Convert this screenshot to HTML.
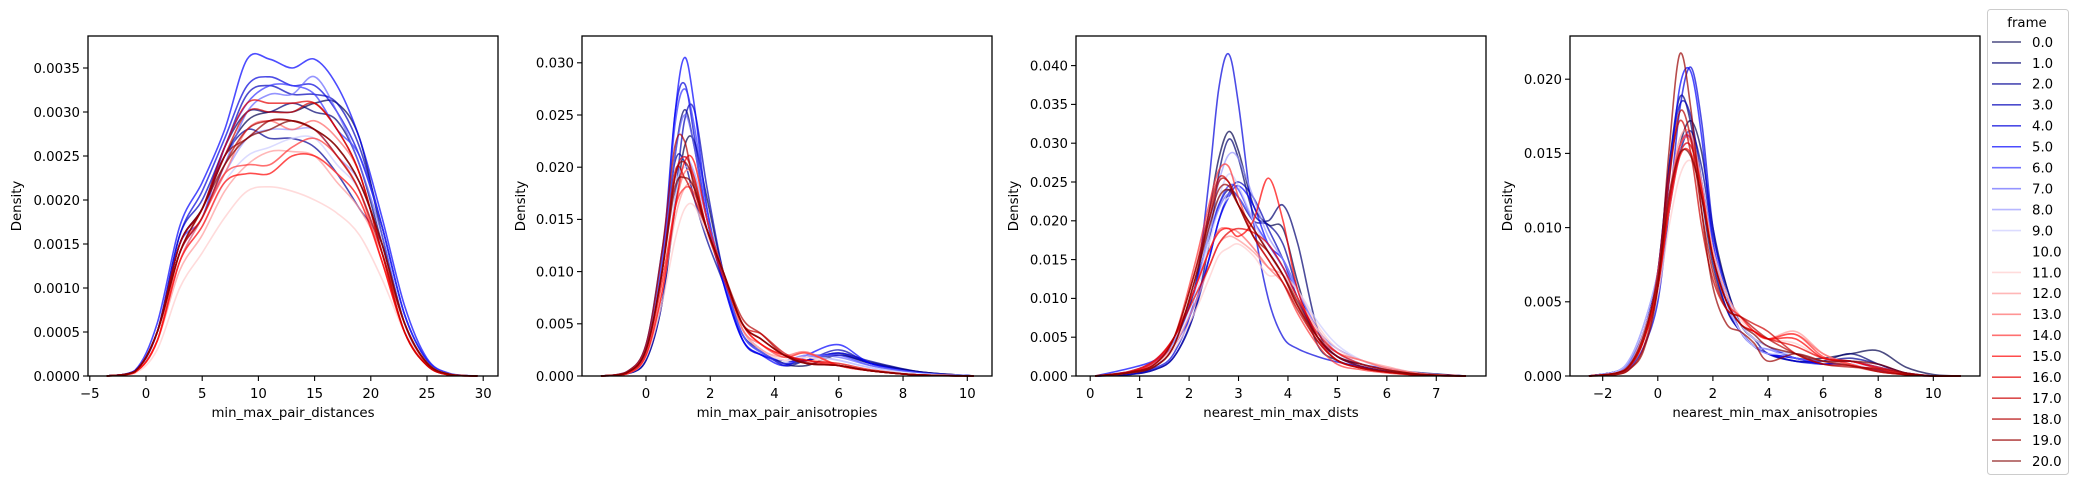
<!DOCTYPE html>
<html><head><meta charset="utf-8"><style>
html,body{margin:0;padding:0;background:#fff;}
svg{display:block;font-family:"DejaVu Sans","Liberation Sans",sans-serif;}
</style></head><body>
<svg id="chart" width="2077" height="484" viewBox="0 0 2077 484" xmlns="http://www.w3.org/2000/svg">
<rect x="0" y="0" width="2077" height="484" fill="#fff"/>
</svg>
<script>
// frames (legend categories)
const frames = [0,1,2,3,4,5,6,7,8,9,10,11,12,13,14,15,16,17,18,19,20];
// panel 1: min_max_pair_distances (density values in units of 1e-4)
const p1X = [-3.5,-1,1,3,5,7,9,11,13,15,17,19,21,23,25,27,29.5];
const p1Y = [
[0,0.5,5,15,19,25,29,30,30,31,31,27,16,6,1.5,0.2,0],
[0,0.5,5,15,19,26,30,30,31,30,29,24,15,6,1.5,0.2,0],
[0,0.5,5,15,19,25,28,27,27,26,23,19,15,6,1.5,0.2,0],
[0,0.5,5,16,20,26,32,33,32,32,31,26,17,7,1.8,0.2,0],
[0,0.6,5,16,21,27,33,34,33,33,30,25,17,7,1.8,0.2,0],
[0,0.6,6,17,22,28,36,36,35,36,33,27,18,8,2,0.3,0],
[0,0.5,5,15,18,26,31,33,33,32,28,25,17,7,1.8,0.2,0],
[0,0.5,5,14,18,24,30,32,32,34,30,24,16,6,1.5,0.2,0],
[0,0.5,4,13,18,23,27,28,28,28,25,22,15,6,1.5,0.2,0],
[0,0.4,4,13,17,22,25,26,27,27,24,21,14,6,1.5,0.2,0],
[0,0.4,4,13,17,22,24,25,25,25,23,20,14,6,1.5,0.2,0],
[0,0.3,3,10,14,18,21,21.5,21,20,18.5,16,11,5,1.2,0.2,0],
[0,0.4,4,12,16,21,24,25.5,25.5,25,22,19,14,6,1.5,0.2,0],
[0,0.4,4,13,18,23,28,29,28,29,27,23,14,6,1.3,0.2,0],
[0,0.4,4,14,18,23,24,24,26,27,25,21,13,5,1.2,0.1,0],
[0,0.4,4,13,17,22,23,23,25,25,23,20,13,5,1.2,0.1,0],
[0,0.5,5,15,19,26,31,31,31,31,28,23,14,5,1.2,0.1,0],
[0,0.5,5,14,19,25,30,30,30,31,28,23,14,5,1.2,0.1,0],
[0,0.5,5,14,18,24,28,29,29,28,25,21,14,6,1.4,0.2,0],
[0,0.5,5,15,19,25,27,29,29,28,26,22,15,6,1.5,0.2,0],
[0,0.5,5,14,19,24,27,28,29,28,26,22,15,6,1.5,0.2,0]];
const p1XTicks = [-5,0,5,10,15,20,25,30];
const p1YTicks = ["0.0000","0.0005","0.0010","0.0015","0.0020","0.0025","0.0030","0.0035"];
// panel 2: min_max_pair_anisotropies (units of 1e-3)
const p2X = [-1.4,-0.6,0,0.5,0.9,1.2,1.5,1.9,2.4,3,3.6,4.3,5,6,7,8.5,10.2];
const p2Y = [
[0,0.2,1.5,7,16,22,22.5,17,10,4.5,2.5,1.2,1,2,1.2,0.4,0],
[0,0.3,2.5,10,21,25.5,22,15,9.5,4,2.3,1.2,1.5,2,1.3,0.4,0],
[0,0.4,3,12,20.5,20.5,17,13,9,4,2.5,1,1.5,2.2,1.4,0.4,0],
[0,0.2,1.5,7,17,24.5,25.5,18,10,3.5,2,1.5,1.5,2.5,1.2,0.3,0],
[0,0.3,2.5,11,25,28,23,15,9,3.5,2,1.5,1.5,2.2,1.2,0.3,0],
[0,0.3,2.2,10,25,30.5,26,16,9,3.5,2,1,2,3,1.2,0.3,0],
[0,0.3,2.5,11,24,27.5,24,16,9.5,4,2.2,1.2,1.8,2,1,0.3,0],
[0,0.3,2.8,11,21,25,22,15,9.5,4,2.3,1.5,2,1.8,1,0.3,0],
[0,0.3,2.5,10,19,21,19.5,15,10,4.5,2.5,1.5,2,1.5,0.8,0.2,0],
[0,0.3,2.5,10,18,20,19,14,10,4.5,2.5,1.5,1.8,1.5,0.8,0.2,0],
[0,0.3,2.5,9,17,19.5,19,14,10,4.5,2.5,1.5,1.8,1.2,0.6,0.2,0],
[0,0.2,1.8,7,13,16,16.3,13.5,10,4.5,2.5,1.5,1.8,1,0.5,0.1,0],
[0,0.2,2,8,15,18,18,14,10,4.5,2.5,1.8,2.2,1,0.5,0.1,0],
[0,0.2,2,9,16,19.5,19,14,10,4.5,3,2,2.3,1,0.5,0.1,0],
[0,0.3,2.5,9,16,18,17.5,14,10,5,3,1.8,2.2,1,0.5,0.1,0],
[0,0.2,2,8,16,20.5,20.5,15,10,5,3,2,1.5,1,0.5,0.1,0],
[0,0.3,2.5,10,19,21,19,14,9.5,5,3.5,2,1.5,1.2,0.6,0.1,0],
[0,0.3,2.5,10,19.5,19,17,14,10,5,4,2.2,1.3,1,0.5,0.1,0],
[0,0.4,3,12,22,22.5,18,14,10,5.5,4,2,1.2,1,0.5,0.1,0],
[0,0.3,2.5,10,19,20.5,18.5,14,10,5,3.5,2,1.2,1,0.5,0.1,0],
[0,0.3,2.5,10,18,19,18,14,10,5,3.5,2,1.2,1,0.5,0.1,0]];
const p2XTicks = [0,2,4,6,8,10];
const p2YTicks = ["0.000","0.005","0.010","0.015","0.020","0.025","0.030"];
// panel 3: nearest_min_max_dists (units of 1e-3)
const p3X = [0.1,0.8,1.3,1.7,2.1,2.4,2.6,2.8,3,3.3,3.6,3.9,4.2,4.6,5,5.5,6,6.7,7.6];
const p3Y = [
[0,0.3,1.2,4,11,21,28,31.5,29,22,19.5,19,12,4,2,1,0.5,0.3,0],
[0,0.2,0.8,2.5,8,17,26,30.5,28,21,20,22,17,6,2.5,1.5,0.8,0.4,0],
[0,0.3,1.2,4,11,18,22,24,23,20,19.5,17,11,5,2.5,1.5,0.8,0.3,0],
[0,0.2,0.8,2.5,8,15,20,23.5,25,23,19,15,10,5,2.5,1.2,0.6,0.2,0],
[0,0.3,1,3,10,25,37,41.5,35,20,10,5,3.5,2.5,1.8,1.2,0.6,0.2,0],
[0,1,2,4,9,15,20,23,24.5,22,17,15,11,6,3,1.5,1,0.3,0],
[0,0.6,2,5,11,18,22,24.5,24,20,17,14,10,5,3,1.5,0.8,0.2,0],
[0,0.5,1.8,4.5,10,17,21.5,23.5,23,20,17,14,11,6,3.5,2,1,0.3,0],
[0,0.5,1.5,4,10,19,25,28.5,28,23,18,15,11,6,3,1.5,0.8,0.2,0],
[0,0.5,1.5,4,10,18,23,26,24.5,20,16,13,11,7,4,2,1,0.3,0],
[0,0.5,1.5,4,10,17,21,23,22,19,16,13,10,6,3,1.5,0.8,0.2,0],
[0,0.4,1.2,3.5,8,12.5,15.5,16.5,17,15.5,13,13,11,6.5,3.5,2,1,0.3,0],
[0,0.5,1.5,4,9,14,17,18,17.5,16,14,13,10,6,3,2,1.2,0.3,0],
[0,0.6,2,5,11,16,18.8,19,18.5,16.5,14,12,9,5,3,2,1,0.3,0],
[0,0.5,1.5,5,14,22,26.5,27,23,18,15,12,8,4,1.5,0.8,0.4,0.1,0],
[0,0.5,1.8,5,11,16,18.5,19,18,20,25.5,20,11,5,2,1,0.5,0.1,0],
[0,0.6,2,5,10,14,17,18.5,19,18.5,17,14,10,5.5,3,1.5,0.8,0.2,0],
[0,0.5,1.5,5,13,21,25.5,25,22,19,16,13,9,4.5,2,1,0.5,0.1,0],
[0,0.4,1.2,4,12,20,25,25,22,18,15,12,8.5,4.5,2,1,0.5,0.1,0],
[0,0.5,1.5,5,13,20,24,24.5,22,18,16,13,9,5,2.5,1.2,0.6,0.2,0],
[0,0.4,1.2,4,12,19,23,24,22,19,16,13,9.5,5,2.5,1.5,0.8,0.2,0]];
const p3XTicks = [0,1,2,3,4,5,6,7];
const p3YTicks = ["0.000","0.005","0.010","0.015","0.020","0.025","0.030","0.035","0.040"];
// panel 4: nearest_min_max_anisotropies (units of 1e-3)
const p4X = [-2.5,-1.5,-1,-0.5,0,0.4,0.8,1.2,1.6,2,2.5,3,3.5,4,5,6,7,8,9,10,11];
const p4Y = [
[0,0.3,1,3,6,11,15.5,17.2,15,10,6,3.5,2.5,2,1.2,1.2,1.5,1.7,0.6,0.1,0],
[0,0.3,1,3,7,14,18.8,17,12,7.5,4.5,3,2,1.5,1,1,1.5,0.8,0.2,0,0],
[0,0.3,1,3,6.5,11,15,16.5,14,9.5,6,3.5,2.5,1.5,1,1,1.2,0.8,0.2,0,0],
[0,0.3,1,3,7,14,18.3,17.5,13,8,4.5,3,2,1.5,1.2,0.8,1,0.5,0.1,0,0],
[0,0.2,0.6,2,5,11,18,20.8,17,10,5.5,3,2,1.5,1,0.8,0.8,0.4,0.1,0,0],
[0,0.2,0.8,2.5,6,13,19.5,20.5,16,9,5,3,2,1.5,1.2,0.8,1,0.5,0.2,0,0],
[0,0.3,1.2,3.5,7,12,15.5,16,13,9,5.5,3.5,2.5,2,1.2,1,1,0.6,0.2,0,0],
[0,0.3,1,3,6.5,12,15.5,16,13,8.5,5,3,2,1.8,1.2,1,1,0.6,0.2,0,0],
[0,0.3,1,3,6.5,12,15.5,16.2,13,8.5,5,3,2,1.8,1.5,1,1,0.6,0.2,0,0],
[0,0.3,1.2,3.5,7,12,15,15.5,12.5,8,5,3,2,1.5,1.5,1,0.8,0.5,0.1,0,0],
[0,0.2,0.8,2.8,6,11,14.5,15,12.5,8.5,5.5,3.5,2.5,2,1.5,1,0.8,0.5,0.1,0,0],
[0,0.2,0.8,2.5,5.5,10,13.5,14.5,12.5,8.5,5.5,3.8,3,2.5,2.2,1.2,0.7,0.3,0.1,0,0],
[0,0.2,0.8,3,6.5,12,16,16.3,13,8.5,5.5,4,3,2.5,3,1.5,0.7,0.3,0.1,0,0],
[0,0.2,0.8,2.8,6.5,12,15.5,15.8,12.5,8,5,4,3,2.5,2.8,1.5,0.8,0.3,0.1,0,0],
[0,0.2,0.8,2.5,6,11.5,15.5,16,12.5,8,5,4,3,2.5,2.8,1.3,0.8,0.3,0.1,0,0],
[0,0.2,0.7,2.5,6,11,14.8,15,12,8,5,3.5,3,2.5,2.5,1.2,1,0.5,0.1,0,0],
[0,0.2,0.7,2.5,6,11.5,15,15.5,12.5,8,5,3.5,3,2.5,2,1.2,1,0.6,0.2,0,0],
[0,0.2,0.7,2.5,7,13.5,17.2,15,10,6.5,4.5,4,3.5,3,1.5,0.8,0.7,0.4,0.1,0,0],
[0,0.1,0.5,2,6,13,17.8,16,11,7,4.5,4,3.2,2.5,1.5,0.8,0.6,0.5,0.2,0,0],
[0,0.1,0.5,1.8,6,15,21.7,18,11,6,3.5,3,2.2,1,1.5,1,0.7,0.3,0.1,0,0],
[0,0.2,0.8,2.8,6.5,12,15,14.8,12,8,5,3.5,2.8,2,1.5,1,1,0.8,0.2,0,0]];
const p4XTicks = [-2,0,2,4,6,8,10];
const p4YTicks = ["0.000","0.005","0.010","0.015","0.020"];

const NS = "http://www.w3.org/2000/svg";
const svg = document.getElementById('chart');
function mk(tag, attrs, parent){ const e=document.createElementNS(NS,tag); for(const k in attrs) e.setAttribute(k,attrs[k]); (parent||svg).appendChild(e); return e; }

function seismic(t){
  const stops=[[0,[0,0,0.3]],[0.25,[0,0,1]],[0.5,[1,1,1]],[0.75,[1,0,0]],[1,[0.5,0,0]]];
  for(let i=0;i<stops.length-1;i++){
    const [a,ca]=stops[i],[b,cb]=stops[i+1];
    if(t<=b+1e-9){ const f=(t-a)/(b-a); return 'rgb('+ca.map((c,j)=>Math.round(255*(c+(cb[j]-c)*f))).join(',')+')'; }
  }
  return 'rgb(128,0,0)';
}

function smoothPath(pts){
  let d='M'+pts[0][0].toFixed(2)+','+pts[0][1].toFixed(2);
  for(let i=0;i<pts.length-1;i++){
    const p0=pts[Math.max(0,i-1)],p1=pts[i],p2=pts[i+1],p3=pts[Math.min(pts.length-1,i+2)];
    const c1x=p1[0]+(p2[0]-p0[0])/6, c1y=p1[1]+(p2[1]-p0[1])/6;
    const c2x=p2[0]-(p3[0]-p1[0])/6, c2y=p2[1]-(p3[1]-p1[1])/6;
    d+=' C'+c1x.toFixed(2)+','+Math.min(c1y,376).toFixed(2)+' '+c2x.toFixed(2)+','+Math.min(c2y,376).toFixed(2)+' '+p2[0].toFixed(2)+','+p2[1].toFixed(2);
  }
  return d;
}

const TOP=36, BOT=376;
const panels=[
 {name:'distances',left:88,right:498,x0:146,xs:11.24,unit:1e-4,pxPerUnitY:88000,xs_:p1X,ys:p1Y,xt:p1XTicks,yt:p1YTicks,ystep:0.0005,label:'min_max_pair_distances',ylab:16},
 {name:'pair-anisotropies',left:582,right:992,x0:646,xs:32.13,unit:1e-3,pxPerUnitY:10440,xs_:p2X,ys:p2Y,xt:p2XTicks,yt:p2YTicks,ystep:0.005,label:'min_max_pair_anisotropies',ylab:520},
 {name:'nearest-dists',left:1076,right:1486,x0:1090.2,xs:49.44,unit:1e-3,pxPerUnitY:7760,xs_:p3X,ys:p3Y,xt:p3XTicks,yt:p3YTicks,ystep:0.005,label:'nearest_min_max_dists',ylab:1013},
 {name:'nearest-anisotropies',left:1570,right:1980,x0:1657.8,xs:27.55,unit:1e-3,pxPerUnitY:14840,xs_:p4X,ys:p4Y,xt:p4XTicks,yt:p4YTicks,ystep:0.005,label:'nearest_min_max_anisotropies',ylab:1507}
];

panels.forEach((p,pi)=>{
  const g=mk('g',{});
  
  
  const xScale=v=>p.x0+p.xs*v;
  const yScale=v=>BOT-v*p.pxPerUnitY;
  const sg=mk('g',{},g);
  
  
  p.ys.forEach((row,fi)=>{
    const pts=row.map((v,k)=>[xScale(p.xs_[k]),yScale(v*p.unit)]);
    const path=mk('path',{d:smoothPath(pts),fill:'none',stroke:seismic(frames[fi]/20),'stroke-opacity':0.7,'stroke-width':1.6},sg);
    
    
  });
  const fr=mk('rect',{x:p.left,y:TOP,width:p.right-p.left,height:BOT-TOP,fill:'none',stroke:'#000','stroke-width':1.3},g);
  
  
  p.xt.forEach(t=>{
    const x=xScale(t);
    mk('line',{x1:x,x2:x,y1:BOT,y2:BOT+5,stroke:'#000','stroke-width':1.1},g);
    const tx=mk('text',{x:x,y:398,'font-size':13.3,'text-anchor':'middle',fill:'#000'},g);
    tx.textContent=(t<0?'\u2212'+(-t):String(t));
    
    
  });
  p.yt.forEach((lab,i)=>{
    const y=yScale(i*p.ystep);
    mk('line',{x1:p.left-5,x2:p.left,y1:y,y2:y,stroke:'#000','stroke-width':1.1},g);
    const ty=mk('text',{x:p.left-8,y:y+4.8,'font-size':13.3,'text-anchor':'end',fill:'#000'},g);
    ty.textContent=lab;
    
    
  });
  const xl=mk('text',{x:(p.left+p.right)/2,y:417,'font-size':13.3,'text-anchor':'middle',fill:'#000'},g);
  xl.textContent=p.label;
  
  
  const yl=mk('text',{x:0,y:0,'font-size':13.3,'text-anchor':'middle',fill:'#000',transform:'translate('+(p.ylab+5)+',206) rotate(-90)'},g);
  yl.textContent='Density';
  
  
});

const lg=mk('g',{});


mk('rect',{x:1987.5,y:9.5,width:81,height:465,rx:3,fill:'#fff',stroke:'#ccc','stroke-width':1},lg);
const lt=mk('text',{x:2027,y:27,'font-size':13.3,'text-anchor':'middle',fill:'#000'},lg);
lt.textContent='frame';


frames.forEach((f,i)=>{
  const y=42+i*20.95;
  const e=mk('g',{},lg);
  
  
  mk('line',{x1:1992,x2:2021,y1:y,y2:y,stroke:seismic(f/20),'stroke-opacity':0.7,'stroke-width':1.6},e);
  const t=mk('text',{x:2032,y:y+4.8,'font-size':13.3,fill:'#000'},e);
  t.textContent=f.toFixed(1);
});
</script>
</body></html>
